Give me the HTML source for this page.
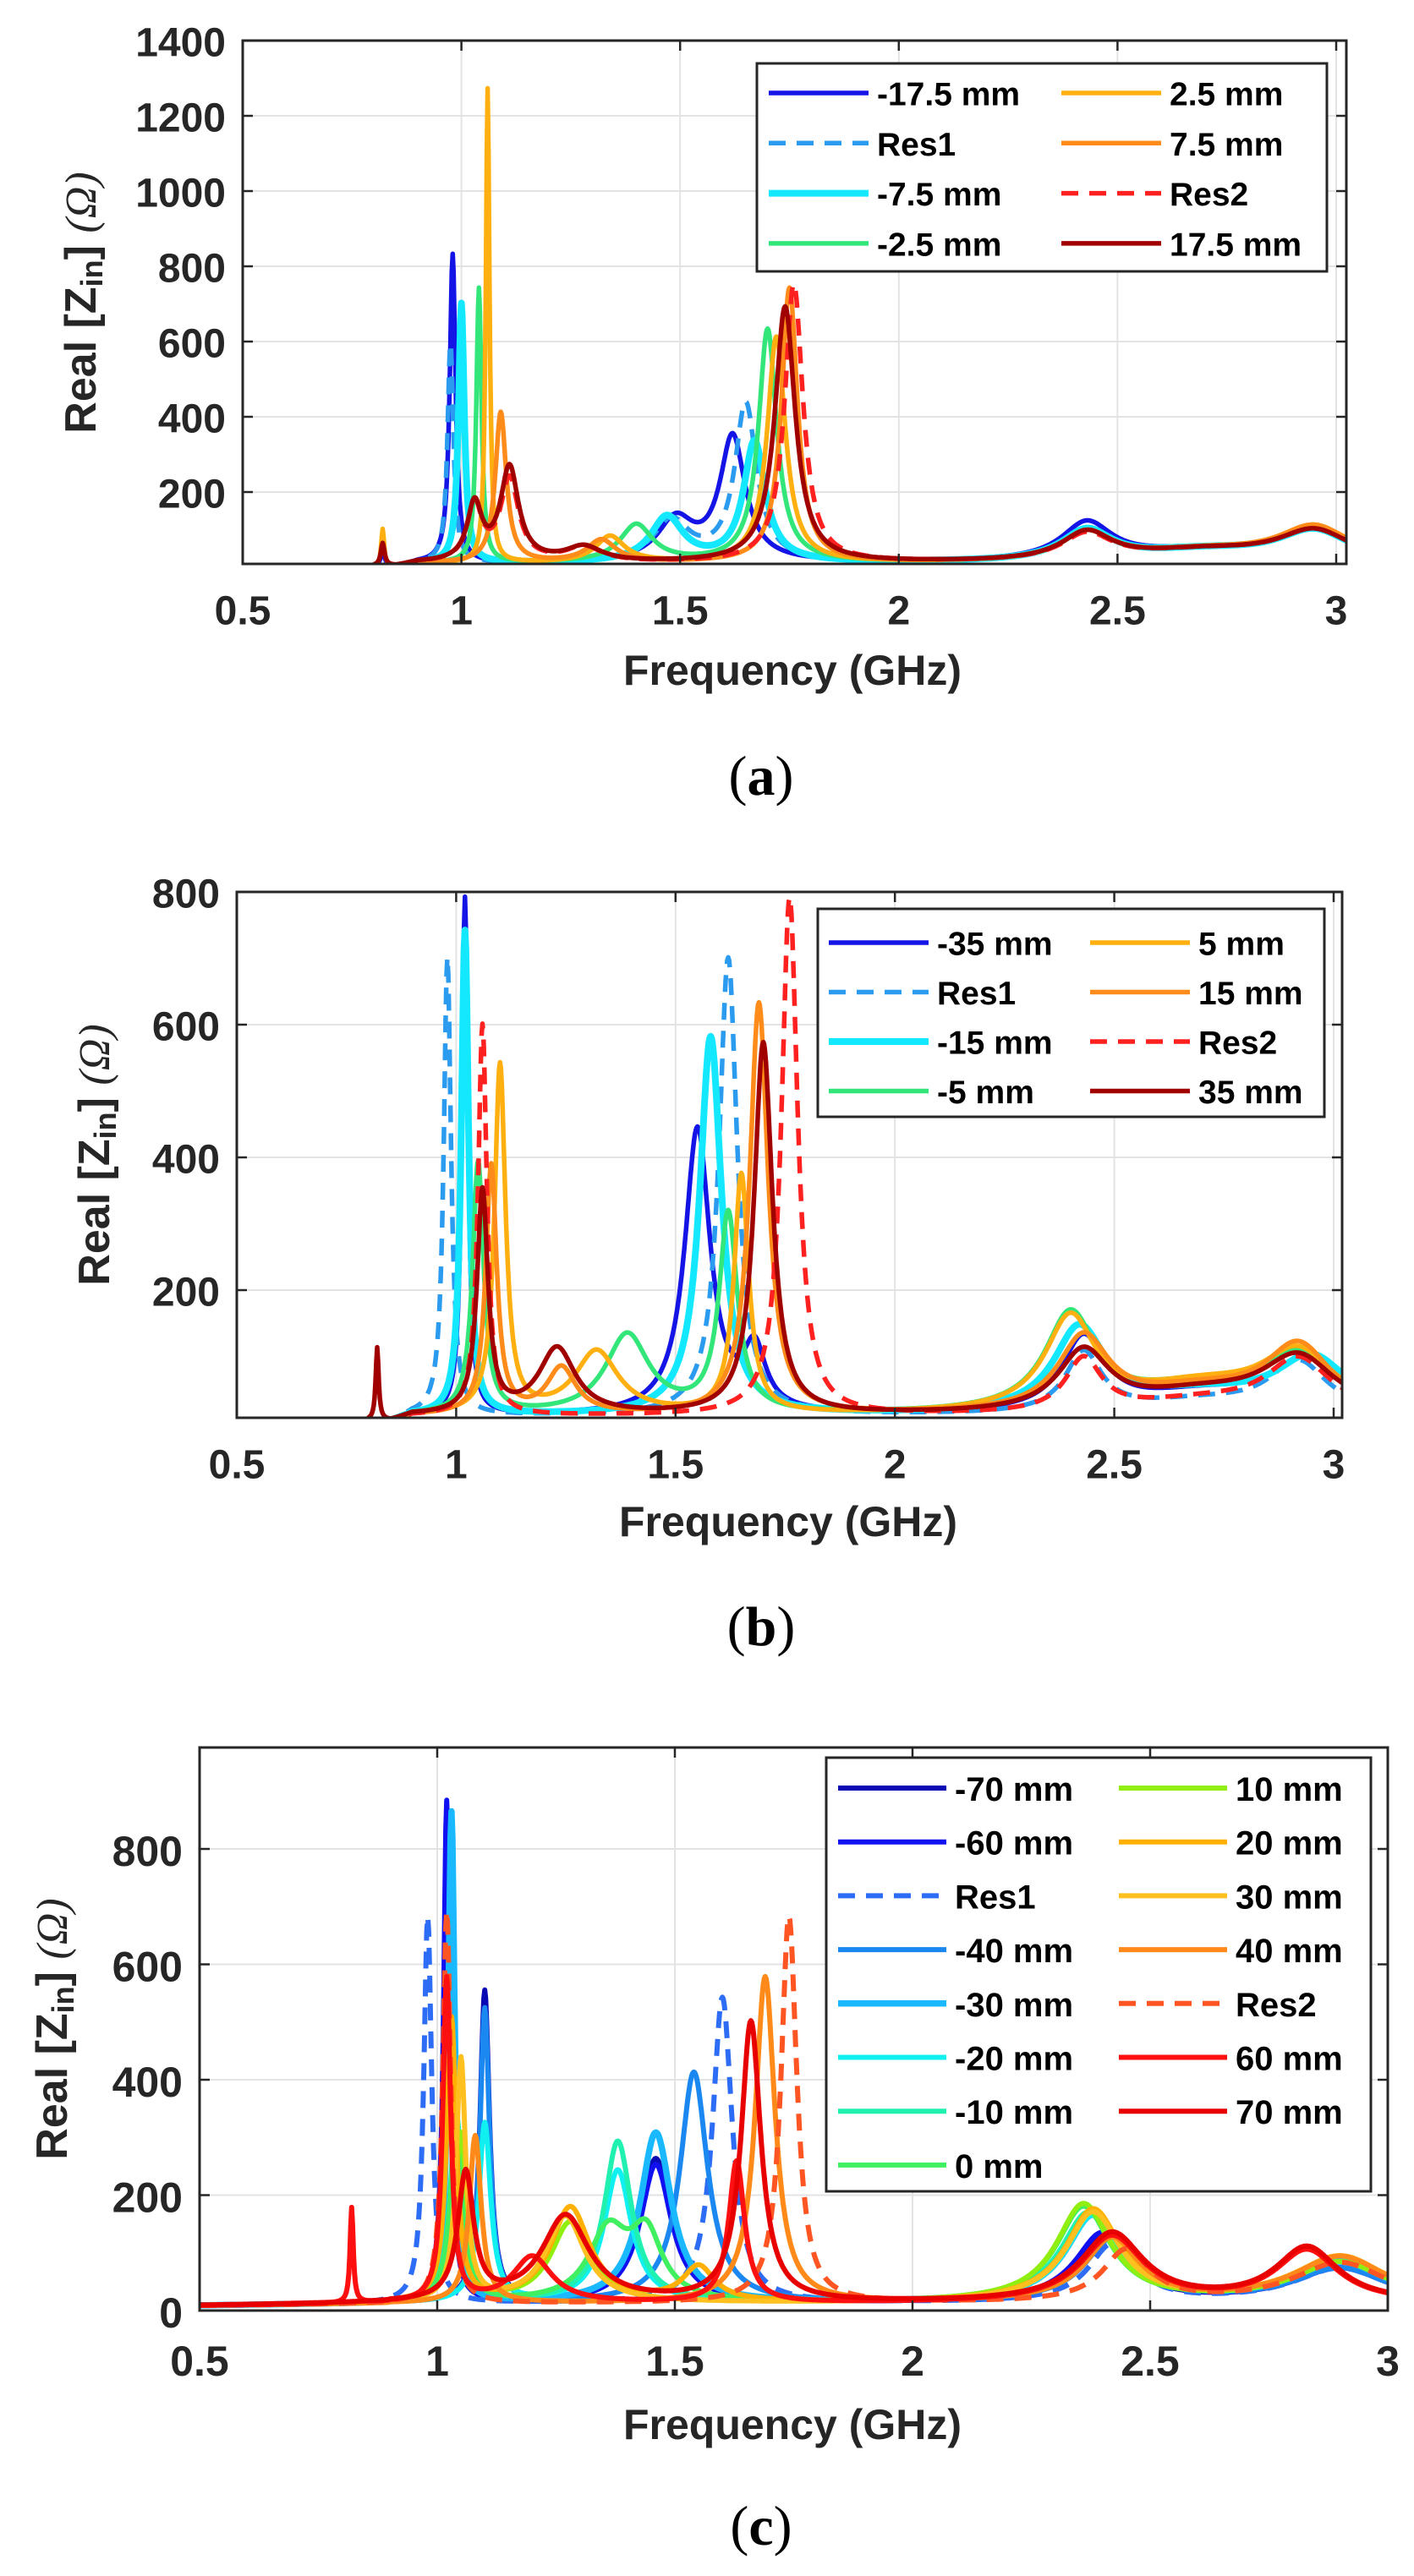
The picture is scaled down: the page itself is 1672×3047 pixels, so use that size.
<!DOCTYPE html>
<html><head><meta charset="utf-8">
<style>
html,body{margin:0;padding:0;background:#fff;}
svg{display:block;}
</style></head>
<body>
<svg id="s" xmlns="http://www.w3.org/2000/svg" width="1672" height="3047" viewBox="0 0 1672 3047" font-family="Liberation Sans, Arial, sans-serif"></svg>
<script>
const S=document.getElementById('s');
let out='';
const L=(f0,h,w)=>[f0,h,w];
function val(peaks,f,base){let v=base(f);for(const p of peaks){const d=(f-p[0])/p[2];v+=p[1]/(1+d*d);}return v;}
function panel(c){
  const X=f=>c.L+(f-0.5)*c.px, Y=v=>c.B0-(v)*c.py;
  const id='cp'+c.name;
  const dw=c.lw||5.5;
  out+=`<defs><clipPath id="${id}"><rect x="${c.L}" y="${c.T}" width="${c.R-c.L}" height="${c.B-c.T}"/></clipPath></defs>`;
  for(let f=0.5;f<=3.001;f+=0.5){const x=X(f);out+=`<line x1="${x}" y1="${c.T}" x2="${x}" y2="${c.B}" stroke="#e3e3e3" stroke-width="2"/>`;}
  for(const t of c.yt){const y=Y(t);out+=`<line x1="${c.L}" y1="${y}" x2="${c.R}" y2="${y}" stroke="#e3e3e3" stroke-width="2"/>`;}
  out+=`<g clip-path="url(#${id})" fill="none" stroke-linejoin="round">`;
  for(const s of c.series){
    let d='';const st=s.start||c.start;
    for(let f=st;f<=c.xmax+0.01;f+=0.002){
      let v=val(s.p,f,c.base);
      if(f<0.8&&!c.lowbase) v=-50;
      d+=(d?'L':'M')+X(f).toFixed(1)+' '+Y(v).toFixed(1);
    }
    out+=`<path d="${d}" stroke="${s.c}" stroke-width="${s.w||dw}" ${s.dash?'stroke-dasharray="20 13"':''}/>`;
  }
  out+='</g>';
  out+=`<rect x="${c.L}" y="${c.T}" width="${c.R-c.L}" height="${c.B-c.T}" fill="none" stroke="#262626" stroke-width="3"/>`;
  for(let f=0.5;f<=3.001;f+=0.5){const x=X(f);out+=`<line x1="${x}" y1="${c.B}" x2="${x}" y2="${c.B-12}" stroke="#262626" stroke-width="2.5"/><line x1="${x}" y1="${c.T}" x2="${x}" y2="${c.T+12}" stroke="#262626" stroke-width="2.5"/>`;
    out+=`<text x="${x}" y="${c.xty}" font-size="${c.fs}" font-weight="bold" fill="#262626" text-anchor="middle" dominant-baseline="central">${+f.toFixed(1)}</text>`;}
  for(const t of c.yt){const y=Y(t);out+=`<line x1="${c.L}" y1="${y}" x2="${c.L+12}" y2="${y}" stroke="#262626" stroke-width="2.5"/><line x1="${c.R}" y1="${y}" x2="${c.R-12}" y2="${y}" stroke="#262626" stroke-width="2.5"/>`;
    out+=`<text x="${c.L-20}" y="${y+3}" font-size="${c.fs}" font-weight="bold" fill="#262626" text-anchor="end" dominant-baseline="central">${t}</text>`;}
  out+=`<text x="${c.xlx}" y="${c.xly}" font-size="50" font-weight="bold" fill="#262626" text-anchor="middle" dominant-baseline="central">Frequency (GHz)</text>`;
  out+=`<text transform="translate(${c.ylx},${c.yly}) rotate(-90)" font-size="52" font-weight="bold" fill="#262626" text-anchor="middle" dominant-baseline="central">Real [Z<tspan font-size="36" dy="12">in</tspan><tspan dy="-12">] </tspan><tspan style="font-family:'Liberation Serif',serif;font-style:italic;font-weight:normal">(Ω)</tspan></text>`;
  out+=`<text x="900" y="${c.cap}" font-size="66" style="font-family:'Liberation Serif',serif" fill="#000" text-anchor="middle" dominant-baseline="central">(<tspan font-weight="bold">${c.name}</tspan>)</text>`;
  const g=c.leg;
  out+=`<rect x="${g.x1}" y="${g.y1}" width="${g.x2-g.x1}" height="${g.y2-g.y1}" fill="#fff" stroke="#262626" stroke-width="3"/>`;
  c.series.forEach((s,i)=>{
    const col=i<g.n?0:1, row=i<g.n?i:i-g.n;
    const y=g.r0+row*g.dr;
    const lx=g.cols[col];
    out+=`<line x1="${lx}" y1="${y}" x2="${lx+g.ll}" y2="${y}" stroke="${s.c}" stroke-width="${s.w||dw}" ${s.dash?'stroke-dasharray="20 13"':''}/>`;
    out+=`<text x="${lx+g.ll+10}" y="${y+2}" font-size="${g.fs}" font-weight="bold" fill="#000" dominant-baseline="central">${s.n}</text>`;
  });
}
const baseAB=f=>f<0.85?0:(f<0.9?(f-0.85)*200:10);
panel({name:'a',L:287,R:1592,T:48,B:667,px:517.2,py:89/200,B0:671,xmax:3.023,start:0.78,base:baseAB,
 yt:[200,400,600,800,1000,1200,1400],fs:48,xty:723,xlx:937,xly:793,ylx:96,yly:358,cap:918,
 leg:{x1:895,y1:75,x2:1569,y2:321,r0:110,dr:59.3,n:4,cols:[909,1255],ll:118,fs:39},
 series:[
  {n:'-17.5 mm',c:'#1414e6',p:[L(0.82,40,0.005),L(0.98,820,0.008),L(1.49,110,0.05),L(1.62,330,0.035),L(2.43,100,0.07),L(2.95,85,0.1),L(2.7,30,0.2)]},
  {n:'Res1',c:'#2b9bf0',dash:1,p:[L(0.975,590,0.008),L(1.48,110,0.05),L(1.65,420,0.03),L(2.43,80,0.07),L(2.95,80,0.1),L(2.7,30,0.2)]},
  {n:'-7.5 mm',c:'#14e8ff',w:8,p:[L(1.0,690,0.008),L(1.47,120,0.045),L(1.67,320,0.03),L(2.43,80,0.07),L(2.95,80,0.1),L(2.7,30,0.2)]},
  {n:'-2.5 mm',c:'#33e67a',p:[L(1.04,730,0.007),L(1.4,100,0.045),L(1.7,620,0.025),L(2.43,75,0.07),L(2.95,85,0.1),L(2.7,30,0.2)]},
  {n:'2.5 mm',c:'#ffb010',p:[L(0.82,100,0.004),L(1.06,1260,0.005),L(1.34,70,0.04),L(1.72,600,0.025),L(2.43,75,0.07),L(2.95,90,0.1),L(2.7,30,0.2)]},
  {n:'7.5 mm',c:'#ff8c1a',p:[L(1.09,400,0.015),L(1.32,60,0.04),L(1.75,730,0.022),L(2.43,75,0.07),L(2.95,90,0.1),L(2.7,30,0.2)]},
  {n:'Res2',c:'#ff2020',dash:1,p:[L(1.03,150,0.02),L(1.11,220,0.025),L(1.28,40,0.05),L(1.76,740,0.025),L(2.43,70,0.07),L(2.95,80,0.1),L(2.7,30,0.2)]},
  {n:'17.5 mm',c:'#a00000',p:[L(0.82,60,0.005),L(1.03,150,0.02),L(1.11,250,0.025),L(1.28,40,0.05),L(1.74,680,0.028),L(2.43,75,0.07),L(2.95,80,0.1),L(2.7,30,0.2)]}
 ]});
panel({name:'b',L:280,R:1587,T:1055,B:1677,px:518.8,py:157/200,B0:1683,xmax:3.019,start:0.78,base:baseAB,
 yt:[200,400,600,800],fs:48,xty:1733,xlx:932,xly:1800,ylx:112,yly:1366,cap:1924,
 leg:{x1:967,y1:1075,x2:1566,y2:1321,r0:1115,dr:58.5,n:4,cols:[980,1289],ll:118,fs:39},
 series:[
  {n:'-35 mm',c:'#1414e6',p:[L(1.02,780,0.008),L(1.55,430,0.035),L(1.68,90,0.03),L(2.43,110,0.06),L(2.95,80,0.1),L(2.7,30,0.2)]},
  {n:'Res1',c:'#2b9bf0',dash:1,p:[L(0.98,690,0.01),L(1.62,690,0.025),L(2.43,90,0.05),L(2.92,75,0.08),L(2.7,20,0.2)]},
  {n:'-15 mm',c:'#14e8ff',w:8,p:[L(1.02,730,0.01),L(1.58,570,0.03),L(2.42,125,0.07),L(2.95,80,0.1),L(2.7,30,0.2)]},
  {n:'-5 mm',c:'#33e67a',p:[L(1.05,380,0.015),L(1.39,120,0.06),L(1.62,300,0.025),L(2.4,145,0.07),L(2.92,80,0.1),L(2.7,40,0.2)]},
  {n:'5 mm',c:'#ffb010',p:[L(1.1,525,0.015),L(1.32,95,0.06),L(1.65,360,0.02),L(2.4,140,0.07),L(2.92,85,0.1),L(2.7,40,0.2)]},
  {n:'15 mm',c:'#ff8c1a',p:[L(1.08,375,0.015),L(1.24,70,0.04),L(1.69,620,0.025),L(2.43,110,0.07),L(2.92,95,0.09),L(2.7,35,0.2)]},
  {n:'Res2',c:'#ff2020',dash:1,p:[L(1.06,590,0.012),L(1.76,780,0.022),L(2.43,80,0.05),L(2.92,80,0.09),L(2.7,20,0.2)]},
  {n:'35 mm',c:'#a00000',p:[L(0.82,110,0.004),L(1.06,335,0.015),L(1.23,100,0.05),L(1.7,560,0.025),L(2.43,90,0.07),L(2.92,80,0.1),L(2.7,30,0.2)]}
 ]});
panel({name:'c',L:236,R:1641,T:2067,B:2733,px:562,py:136.5/200,B0:2733,xmax:3,start:0.5,lowbase:1,lw:6,base:f=>f<0.9?8+(f-0.5)*8:12,
 yt:[0,200,400,600,800],fs:50,xty:2793,xlx:937,xly:2868,ylx:62,yly:2400,cap:2988,
 leg:{x1:977,y1:2079,x2:1621,y2:2592,r0:2115,dr:63.7,n:8,cols:[991,1323],ll:128,fs:40},
 series:[
  {n:'-70 mm',c:'#0a0ab4',p:[L(1.1,540,0.012),L(1.46,250,0.04),L(2.4,110,0.07),L(2.9,60,0.12)]},
  {n:'-60 mm',c:'#1010f0',p:[L(1.02,870,0.008),L(1.46,240,0.04),L(2.4,120,0.07),L(2.9,60,0.12)]},
  {n:'Res1',c:'#2d6cf5',dash:1,p:[L(0.98,670,0.01),L(1.6,530,0.025),L(2.42,100,0.06),L(2.9,60,0.12)]},
  {n:'-40 mm',c:'#1a88f0',p:[L(1.1,510,0.012),L(1.54,400,0.035),L(2.42,110,0.07),L(2.9,60,0.12)]},
  {n:'-30 mm',c:'#19b8ff',w:7.5,p:[L(1.03,850,0.008),L(1.46,295,0.04),L(2.38,150,0.07),L(2.9,70,0.12)]},
  {n:'-20 mm',c:'#10f0f0',p:[L(1.1,310,0.015),L(1.38,230,0.035),L(2.38,150,0.07),L(2.9,70,0.12)]},
  {n:'-10 mm',c:'#20f0b0',p:[L(1.04,330,0.015),L(1.38,280,0.035),L(2.37,155,0.07),L(2.9,70,0.12)]},
  {n:'0 mm',c:'#40f060',p:[L(1.04,300,0.015),L(1.36,120,0.05),L(1.44,110,0.04),L(2.36,165,0.07),L(2.9,70,0.12)]},
  {n:'10 mm',c:'#90ee10',p:[L(1.05,290,0.015),L(1.28,140,0.05),L(2.36,170,0.07),L(2.9,70,0.12)]},
  {n:'20 mm',c:'#ffb000',p:[L(1.03,490,0.012),L(1.28,165,0.05),L(1.55,60,0.04),L(2.38,160,0.07),L(2.9,80,0.12)]},
  {n:'30 mm',c:'#ffc020',p:[L(1.05,420,0.012),L(1.27,150,0.05),L(2.38,155,0.07),L(2.9,80,0.12)]},
  {n:'40 mm',c:'#ff8a1a',p:[L(1.08,290,0.015),L(1.69,565,0.025),L(2.42,110,0.07),L(2.9,80,0.12)]},
  {n:'Res2',c:'#ff5522',dash:1,p:[L(1.02,680,0.01),L(1.74,670,0.02),L(2.45,90,0.06),L(2.9,70,0.12)]},
  {n:'60 mm',c:'#ff1010',p:[L(0.82,165,0.004),L(1.02,560,0.01),L(1.2,80,0.05),L(1.63,245,0.02),L(2.42,115,0.08),L(2.83,90,0.08)]},
  {n:'70 mm',c:'#e80000',p:[L(1.06,220,0.02),L(1.27,150,0.06),L(1.66,485,0.025),L(2.42,120,0.08),L(2.83,95,0.08)]}
 ]});
S.innerHTML=out;
</script>
</body></html>
